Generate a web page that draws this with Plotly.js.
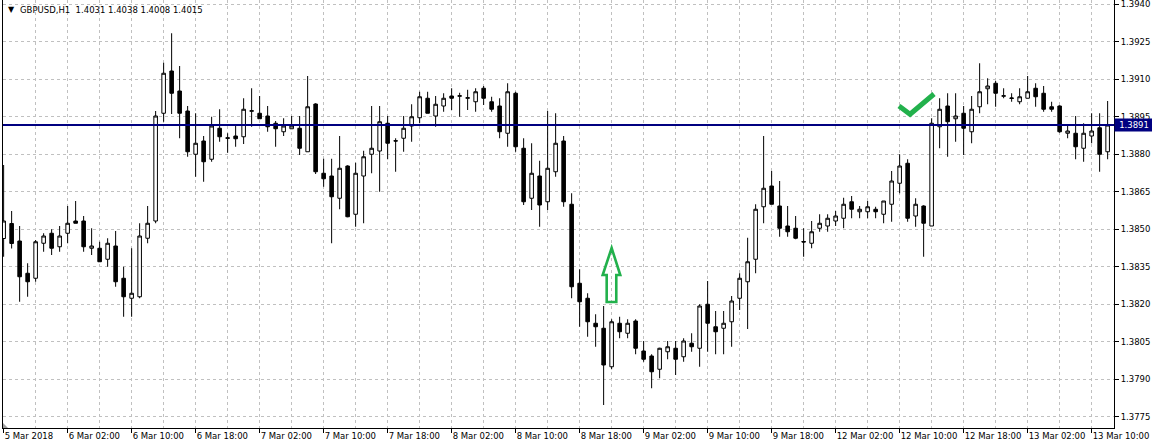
<!DOCTYPE html>
<html>
<head>
<meta charset="utf-8">
<script src="https://cdn.plot.ly/plotly-3.0.1.min.js"></script>
<style>
  html, body { margin: 0; padding: 0; background: #ffffff; }
  #chart { width: 1152px; height: 448px; }
</style>
</head>
<body>
<div id="chart"></div>
<script>
// ---- Data (GBPUSD, H1) ----
const tickLabels = ["5 Mar 2018","6 Mar 02:00","6 Mar 10:00","6 Mar 18:00","7 Mar 02:00","7 Mar 10:00","7 Mar 18:00","8 Mar 02:00","8 Mar 10:00","8 Mar 18:00","9 Mar 02:00","9 Mar 10:00","9 Mar 18:00","12 Mar 02:00","12 Mar 10:00","12 Mar 18:00","13 Mar 02:00","13 Mar 10:00"];

const openP = [1.38463,1.38523,1.38453,1.38324,1.38304,1.38444,1.38484,1.38430,1.38484,1.38533,
1.38533,1.38424,1.38424,1.38380,1.38433,1.38304,1.38224,1.38230,1.38464,1.38533,
1.38964,1.39133,1.39053,1.38973,1.38800,1.38853,1.38780,1.38904,1.38866,1.38873,
1.38870,1.38972,1.38964,1.38953,1.38924,1.38890,1.38902,1.38904,1.38810,1.39001,
1.38724,1.38713,1.38624,1.38753,1.38560,1.38713,1.38800,1.38813,1.38924,1.38854,
1.38864,1.38913,1.38946,1.39024,1.38953,1.38993,1.39033,1.39032,1.39024,1.39010,
1.39064,1.39010,1.38993,1.38884,1.39044,1.38824,1.38624,1.38713,1.38610,1.38730,
1.38853,1.38600,1.38284,1.38224,1.38124,1.38104,1.37950,1.38124,1.38084,1.38133,
1.38013,1.37993,1.37940,1.38010,1.38024,1.37990,1.38044,1.38024,1.38200,1.38110,
1.38104,1.38130,1.38224,1.38290,1.38380,1.38590,1.38673,1.38593,1.38513,1.38504,
1.38451,1.38444,1.38504,1.38513,1.38533,1.38544,1.38610,1.38570,1.38570,1.38580,
1.38560,1.38600,1.38684,1.38764,1.38553,1.38593,1.38513,1.38910,1.38993,1.38942,
1.38964,1.38890,1.38990,1.39062,1.39084,1.39032,1.39023,1.39010,1.39024,1.39064,
1.39044,1.38990,1.38993,1.38884,1.38884,1.38824,1.38873,1.38906,1.38810];

const highP = [1.38757,1.38573,1.38513,1.38364,1.38457,1.38484,1.38500,1.38513,1.38593,1.38613,
1.38553,1.38504,1.38450,1.38464,1.38493,1.38350,1.38424,1.38524,1.38593,1.38973,
1.39166,1.39284,1.39153,1.38993,1.38964,1.38873,1.38950,1.38980,1.38884,1.38913,
1.39024,1.39064,1.39033,1.38993,1.38933,1.38944,1.38953,1.38953,1.39113,1.39004,
1.38782,1.38782,1.38873,1.38756,1.38766,1.38814,1.38993,1.38993,1.38953,1.38864,
1.38953,1.39000,1.39050,1.39050,1.39033,1.39044,1.39064,1.39046,1.39058,1.39064,
1.39073,1.39030,1.39024,1.39084,1.39050,1.38864,1.38844,1.38774,1.38973,1.38964,
1.38873,1.38644,1.38340,1.38244,1.38160,1.38193,1.38140,1.38150,1.38140,1.38140,
1.38053,1.38000,1.38026,1.38053,1.38053,1.38064,1.38084,1.38200,1.38293,1.38173,
1.38173,1.38233,1.38324,1.38466,1.38600,1.38873,1.38733,1.38693,1.38593,1.38553,
1.38504,1.38533,1.38560,1.38560,1.38573,1.38626,1.38633,1.38593,1.38613,1.38590,
1.38613,1.38733,1.38800,1.38780,1.38624,1.38596,1.38944,1.39024,1.39044,1.39044,
1.38993,1.39033,1.39164,1.39104,1.39093,1.39064,1.39044,1.39064,1.39113,1.39084,
1.39073,1.39010,1.38996,1.38913,1.38953,1.38924,1.38964,1.38964,1.39013];

const lowP = [1.38390,1.38423,1.38210,1.38230,1.38290,1.38410,1.38397,1.38410,1.38444,1.38524,
1.38410,1.38397,1.38370,1.38350,1.38270,1.38150,1.38150,1.38224,1.38444,1.38524,
1.38930,1.38961,1.38864,1.38790,1.38710,1.38690,1.38770,1.38850,1.38806,1.38830,
1.38841,1.38910,1.38942,1.38890,1.38830,1.38873,1.38902,1.38797,1.38810,1.38721,
1.38670,1.38444,1.38580,1.38548,1.38510,1.38524,1.38724,1.38650,1.38780,1.38730,
1.38810,1.38850,1.38924,1.38964,1.38910,1.38970,1.38977,1.38950,1.38977,1.38970,
1.38997,1.38970,1.38864,1.38830,1.38810,1.38597,1.38577,1.38510,1.38577,1.38710,
1.38590,1.38224,1.38110,1.38070,1.38030,1.37797,1.37940,1.38064,1.38064,1.38000,
1.37970,1.37864,1.37904,1.37980,1.37917,1.37970,1.38010,1.37950,1.38010,1.38000,
1.38000,1.38030,1.38177,1.38101,1.38324,1.38524,1.38600,1.38470,1.38470,1.38460,
1.38390,1.38424,1.38490,1.38490,1.38513,1.38504,1.38544,1.38544,1.38544,1.38544,
1.38524,1.38530,1.38644,1.38530,1.38510,1.38390,1.38513,1.38824,1.38790,1.38850,
1.38797,1.38844,1.38964,1.39000,1.38990,1.39024,1.39010,1.39000,1.39024,1.38990,
1.38970,1.38970,1.38886,1.38864,1.38780,1.38770,1.38844,1.38730,1.38780];

const closeP = [1.38533,1.38443,1.38310,1.38290,1.38450,1.38473,1.38424,1.38473,1.38524,1.38524,
1.38430,1.38433,1.38370,1.38444,1.38290,1.38230,1.38244,1.38473,1.38524,1.38953,
1.39124,1.39044,1.38964,1.38810,1.38844,1.38770,1.38913,1.38870,1.38864,1.38862,
1.38980,1.38974,1.38942,1.38910,1.38902,1.38913,1.38913,1.38824,1.38990,1.38730,
1.38702,1.38630,1.38744,1.38550,1.38724,1.38790,1.38824,1.38930,1.38844,1.38853,
1.38904,1.38950,1.39030,1.38964,1.39000,1.39024,1.39024,1.39034,1.39026,1.39050,
1.39024,1.38980,1.38890,1.39050,1.38830,1.38610,1.38724,1.38597,1.38744,1.38844,
1.38610,1.38270,1.38210,1.38130,1.38110,1.37957,1.38130,1.38090,1.38124,1.38024,
1.37980,1.37930,1.38024,1.38030,1.37980,1.38053,1.38030,1.38193,1.38124,1.38090,
1.38124,1.38213,1.38304,1.38370,1.38580,1.38664,1.38600,1.38504,1.38490,1.38464,
1.38449,1.38490,1.38524,1.38544,1.38553,1.38600,1.38580,1.38580,1.38590,1.38570,
1.38613,1.38693,1.38753,1.38544,1.38600,1.38524,1.38924,1.38980,1.38930,1.38953,
1.38904,1.38980,1.39050,1.39073,1.39044,1.39034,1.39025,1.39030,1.39050,1.39030,
1.38980,1.38980,1.38890,1.38893,1.38830,1.38884,1.38893,1.38800,1.38917];

const yTicks = [1.3775,1.3790,1.3805,1.3820,1.3835,1.3850,1.3865,1.3880,1.3895,1.3910,1.3925,1.3940];
const priceLevel = 1.38917;
const priceLevelLabel = "1.3891";
const headerText = "GBPUSD,H1  1.4031 1.4038 1.4008 1.4015";

// decorative marks anchored in data units (bar index, price)
const arrowPts = [[75.38,1.38209],[76.58,1.38209],[76.58,1.38317],[77.08,1.38317],[76.0,1.38425],[74.88,1.38317],[75.38,1.38317]];
const checkPts = [[111.92,1.38993],[113.3,1.38960],[116.3,1.39041]];

// ---- Build ----
const barsPerLabel = 8;
const xIdx = openP.map((_, i) => i);
const majorVals = tickLabels.map((_, i) => i * barsPerLabel);
const minorVals = tickLabels.map((_, i) => i * barsPerLabel + barsPerLabel / 2);

const FONT = "Tahoma, 'DejaVu Sans', sans-serif";

const trace = {
  type: 'candlestick',
  x: xIdx,
  open: openP, high: highP, low: lowP, close: closeP,
  increasing: { line: { color: '#000000', width: 1 }, fillcolor: '#ffffff' },
  decreasing: { line: { color: '#000000', width: 1 }, fillcolor: '#000000' },
  whiskerwidth: 0,
  hoverinfo: 'skip',
  showlegend: false
};

function pathFrom(pts, close) {
  return pts.map((p, i) => (i === 0 ? 'M' : 'L') + p[0] + ',' + p[1]).join(' ') + (close ? ' Z' : '');
}

const plotW = 1152 - 3 - 38;
const xMin = -0.08;
const xMax = xMin + plotW / 8;

const layout = {
  width: 1152, height: 448,
  margin: { l: 3, r: 38, t: 0, b: 20, pad: 0 },
  paper_bgcolor: '#ffffff', plot_bgcolor: '#ffffff',
  font: { family: FONT, size: 8.5, color: '#000000' },
  boxgap: 0.36,
  showlegend: false,
  hovermode: false,
  xaxis: {
    type: 'linear',
    range: [xMin, xMax],
    rangeslider: { visible: false },
    tickmode: 'array', tickvals: majorVals, ticktext: tickLabels,
    tickangle: 0,
    ticks: 'outside', ticklen: 4, tickcolor: '#000000', tickwidth: 1,
    ticklabelposition: 'outside right',
    ticklabeloverflow: 'allow',
    automargin: false,
    showgrid: true, gridcolor: '#c0c0c0', griddash: '3px,3px', gridwidth: 1,
    minor: { tickmode: 'array', tickvals: minorVals, showgrid: true, gridcolor: '#c0c0c0', griddash: '3px,3px', gridwidth: 1, ticks: '' },
    showline: true, linecolor: '#000000', linewidth: 1,
    zeroline: false, fixedrange: true,
    tickfont: { family: FONT, size: 8.5, color: '#000000' }
  },
  yaxis: {
    side: 'right',
    range: [1.39417 - 428 / 25000, 1.39417],
    tickmode: 'array', tickvals: yTicks, ticktext: yTicks.map(v => v.toFixed(4)),
    ticks: 'outside', ticklen: 4, tickcolor: '#000000',
    ticklabeloverflow: 'allow',
    automargin: false,
    showgrid: true, gridcolor: '#c0c0c0', griddash: '3px,3px', gridwidth: 1,
    showline: true, linecolor: '#000000', linewidth: 1, mirror: true,
    zeroline: false, fixedrange: true,
    tickfont: { family: FONT, size: 8.5, color: '#000000' }
  },
  shapes: [
    { type: 'line', xref: 'paper', yref: 'y', x0: 0, x1: 1, y0: priceLevel, y1: priceLevel,
      line: { color: '#000080', width: 2 }, layer: 'above' },
    { type: 'path', xref: 'x', yref: 'y', path: pathFrom(arrowPts, true),
      line: { color: '#22b14c', width: 2.6 }, fillcolor: 'rgba(0,0,0,0)', layer: 'above' },
    { type: 'path', xref: 'x', yref: 'y', path: pathFrom(checkPts, false),
      line: { color: '#22b14c', width: 5 }, fillcolor: 'rgba(0,0,0,0)', layer: 'above' },
    { type: 'path', xref: 'paper', yref: 'paper', path: 'M0,0 L0,0.0117 L0.0045,0 Z',
      line: { width: 0 }, fillcolor: '#a0a0a0', layer: 'above' }
  ],
  annotations: [
    { xref: 'paper', yref: 'paper', x: 3 / plotW, y: 1 - 10 / 428, xanchor: 'left', yanchor: 'middle',
      text: '▼', showarrow: false, font: { family: FONT, size: 8, color: '#000000' } },
    { xref: 'paper', yref: 'paper', x: 15 / plotW, y: 1 - 10 / 428, xanchor: 'left', yanchor: 'middle',
      text: headerText, showarrow: false, font: { family: FONT, size: 8.5, color: '#000000' } },
    { xref: 'paper', yref: 'y', x: 1, y: priceLevel, xanchor: 'left', yanchor: 'middle',
      text: priceLevelLabel, showarrow: false, bgcolor: '#000080', borderpad: 1,
      width: 36, height: 10, align: 'center',
      font: { family: FONT, size: 8.5, color: '#ffffff' } }
  ]
};

Plotly.newPlot('chart', [trace], layout, { displayModeBar: false, staticPlot: true });
</script>
</body>
</html>
